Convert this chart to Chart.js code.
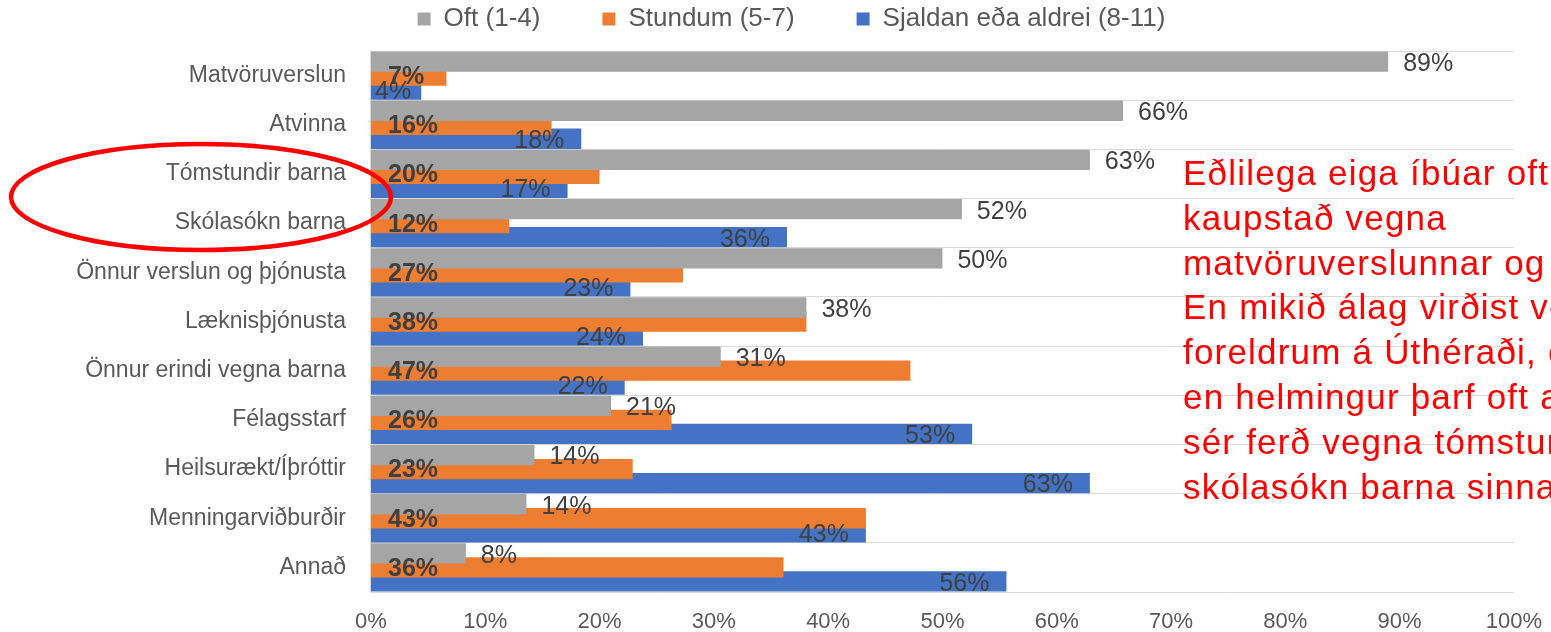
<!DOCTYPE html>
<html><head><meta charset="utf-8">
<script src="https://cdn.jsdelivr.net/npm/chart.js@4.4.1/dist/chart.umd.min.js"></script>
<style>
html,body{margin:0;padding:0;background:#fff;}
#wrap{position:relative;width:1551px;height:632px;overflow:hidden;}
#c{position:absolute;left:0;top:0;}
#note{position:absolute;left:1183px;top:151px;font-family:'Liberation Sans',Arial,sans-serif;font-size:35px;letter-spacing:1.2px;line-height:44.8px;color:#ff0000;white-space:nowrap;}
svg{position:absolute;left:0;top:0;pointer-events:none;}
</style></head>
<body><div id="wrap"><canvas id="c" width="1551" height="632"></canvas>
<div id="note">Eðlilega eiga íbúar oft erindi í<br>kaupstað vegna<br>matvöruverslunnar og atvinnu.<br>En mikið álag virðist vera á<br>foreldrum á Úthéraði, en meira<br>en helmingur þarf oft að gera<br>sér ferð vegna tómstunda og<br>skólasókn barna sinna.</div>
<svg width="1551" height="632"><ellipse cx="201" cy="197" rx="190" ry="53" fill="none" stroke="#ff0000" stroke-width="4.5"/></svg>
</div>
<script>
const categories = ['Matvöruverslun','Atvinna','Tómstundir barna','Skólasókn barna','Önnur verslun og þjónusta','Læknisþjónusta','Önnur erindi vegna barna','Félagsstarf','Heilsurækt/Íþróttir','Menningarviðburðir','Annað'];
const oft = [89.0, 65.8, 62.9, 51.7, 50.0, 38.1, 30.6, 21.0, 14.3, 13.6, 8.3];
const stundum = [6.6, 15.8, 20.0, 12.1, 27.3, 38.1, 47.2, 26.3, 22.9, 43.3, 36.1];
const sjaldan = [4.4, 18.4, 17.2, 36.4, 22.7, 23.8, 22.2, 52.6, 62.9, 43.3, 55.6];
const seriesNames = ['Oft (1-4)','Stundum (5-7)','Sjaldan eða aldrei (8-11)'];
const seriesColors = ['#A5A5A5','#ED7D31','#4472C4'];
const tickLabels = ['0%','10%','20%','30%','40%','50%','60%','70%','80%','90%','100%'];

const FONT = "'Liberation Sans', Arial, Helvetica, sans-serif";
Chart.defaults.font.family = FONT;

const labelPlugin = {
  id: 'barLabels',
  afterDatasetsDraw(chart) {
    const ctx = chart.ctx;
    ctx.save();
    ctx.fillStyle = '#404040';
    ctx.textBaseline = 'middle';
    chart.data.datasets.forEach((ds, i) => {
      const meta = chart.getDatasetMeta(i);
      if (meta.hidden) return;
      meta.data.forEach((bar, j) => {
        const p = bar.getProps(['x','y','base'], true);
        const txt = Math.round(ds.data[j]) + '%';
        if (i === 0) {
          ctx.font = '25px ' + FONT; ctx.textAlign = 'left';
          ctx.fillText(txt, p.x + 15, p.y + 2.5);
        } else if (i === 1) {
          ctx.font = 'bold 25px ' + FONT; ctx.textAlign = 'left';
          ctx.fillText(txt, p.base + 17, p.y + 1.5);
        } else {
          ctx.font = '25px ' + FONT;
          const w = ctx.measureText(txt).width;
          let xr = p.x - 17;
          if (xr - w < p.base + 4) xr = p.base + 4 + w;
          ctx.textAlign = 'right';
          ctx.fillText(txt, xr, p.y + 2.5);
        }
      });
    });
    ctx.restore();
  }
};

new Chart(document.getElementById('c'), {
  type: 'bar',
  data: {
    labels: categories,
    datasets: [oft, stundum, sjaldan].map((d, i) => ({
      label: seriesNames[i], data: d, backgroundColor: seriesColors[i],
      borderWidth: 0, categoryPercentage: 0.854, barPercentage: 1.45
    }))
  },
  options: {
    indexAxis: 'y', responsive: false, animation: false, devicePixelRatio: 1,
    layout: { padding: { left: 66, right: 34, top: -56, bottom: 0 } },
    plugins: {
      legend: { position: 'top', align: 'center',
        labels: { boxWidth: 13, boxHeight: 13, padding: 62, color: '#595959', font: { size: 26 } } },
      title: { display: true, text: '', weight: 900, font: { size: 1, lineHeight: 1 }, padding: { top: 0, bottom: 8 } },
      tooltip: { enabled: false }
    },
    scales: {
      x: {
        min: 0, max: 100,
        afterFit(s) { s.height = 40; },
        grid: { display: false }, border: { display: false },
        ticks: { stepSize: 10, padding: 9, color: '#595959', font: { size: 22 },
          callback: (v) => tickLabels[Math.round(v / 10)] }
      },
      y: {
        afterFit(s) { s.width = 305; },
        grid: { color: '#d9d9d9', lineWidth: 1, drawTicks: false, offset: true },
        border: { display: true, color: '#d9d9d9', width: 1.5 },
        ticks: { padding: 25, color: '#595959', font: { size: 23 } }
      }
    }
  },
  plugins: [labelPlugin]
});
</script>
</body></html>
